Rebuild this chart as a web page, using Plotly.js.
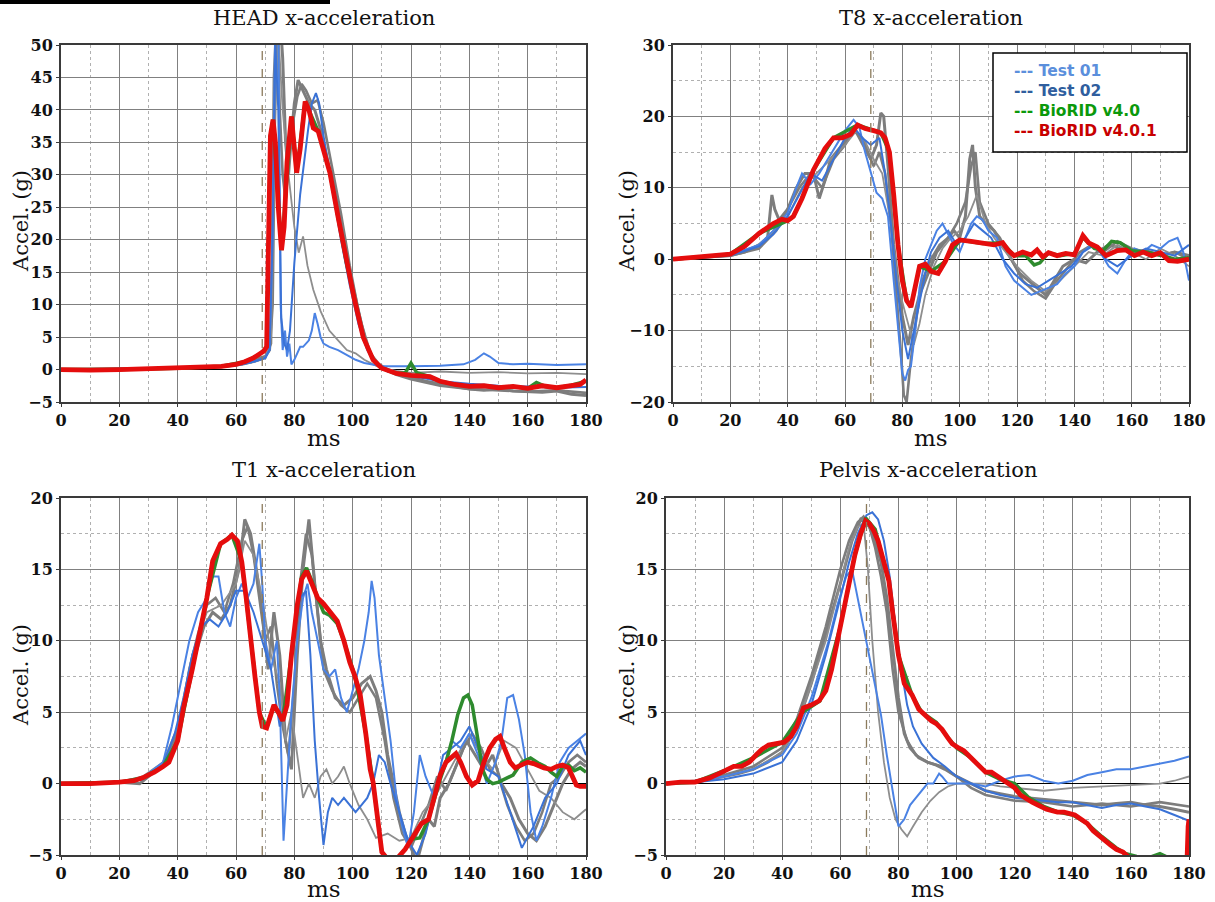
<!DOCTYPE html>
<html>
<head>
<meta charset="utf-8">
<script src="https://cdn.plot.ly/plotly-3.0.1.min.js"></script>
<style>html,body{margin:0;padding:0;background:#fff;}#chart{width:1215px;height:902px;}</style>
</head>
<body>
<div id="chart"></div>
<script>
// ---------------- DATA ----------------
const panelTitles = ["HEAD x-acceleration", "T8 x-acceleration", "T1 x-acceleration", "Pelvis x-acceleration"];
const xTitle = "ms";
const yTitle = "Accel. (g)";
const legendLabels = ["--- Test 01", "--- Test 02", "--- BioRID v4.0", "--- BioRID v4.0.1"];
const markerTime = 69;

// HEAD
const head_red_t = [0,10,20,30,40,50,55,60,63,66,68,69.5,70.5,71.3,71.8,72.7,73.5,74.5,75.6,76.5,77.5,79,80.8,82,83.7,85,86.5,88.2,90,92.2,95,97.9,100.5,103.6,107,110,115,120,126.5,130,135,140,145,150,155,160,165,170,175,178,180];
const head_red   = [0,-0.1,0,0.1,0.2,0.3,0.5,0.8,1.2,1.8,2.3,2.8,3.5,20,36,38.5,35,25,18.4,22,32,39,30.3,34,41.3,40,37.2,36.7,34,30.3,23.5,16.4,11,5,1.5,0.2,-0.6,-0.9,-1.1,-1.8,-2.3,-2.6,-2.5,-2.8,-2.6,-2.9,-2.5,-2.8,-2.4,-2.3,-1.6];
const head_green_t = [0,20,40,55,63,68,70.5,71.8,72.7,75.6,79,80.8,83.7,88.2,92.2,97.9,103.6,107,110,115,118,120,122,126.5,130,135,140,145,150,155,160,163,166,170,175,180];
const head_green   = [0,0,0.2,0.5,1.2,2.3,3.5,36,38.5,18.4,39,30.3,41.3,36.7,30.3,16.4,5,1.5,0.2,-0.6,-0.5,1,-0.5,-1.1,-1.8,-2.3,-2.6,-2.5,-2.8,-2.6,-2.9,-2,-2.6,-2.8,-2.4,-1.8];
const head_gray1_t = [0,20,40,55,62,66,70,71.5,72.5,73.3,74,75,76,77,78,79,80,81.3,83,85,87,89,91,94,97,100,103,106,109,112,116,120,125,130,135,140,145,150,155,160,165,170,175,180];
const head_gray1   = [0,0.1,0.2,0.5,1,1.5,2,3,10,40,55,55,48,35,30,36,41,44.6,43,41,40,37,33,27,20,13,7,2.5,0.8,0,-0.6,-1.2,-1.8,-2.2,-2.7,-3,-3.2,-3,-3.3,-3.4,-3.5,-3.3,-3.8,-4];
const head_gray2_t = [0,20,40,55,62,66,70,72,73,74,75,76,77,78,79.5,81,82.5,84,86,88,90,93,96,99,102,105,108,111,115,120,125,130,140,150,160,170,180];
const head_gray2   = [0,0.1,0.2,0.4,0.8,1.2,1.8,4,45,55,40,30,26,33,38,42,44,43,41,41.5,38,31,24,16,9,3.5,1,0,-0.8,-1.5,-2,-2.5,-3,-3.2,-3.4,-3.2,-3.6];
const head_gray3_t = [0,20,40,55,62,66,70,72,73.5,74.5,76,78,80,81.5,83,84.5,86.5,89,92,95,98,101,104,107,110,115,120,130,140,150,160,170,180];
const head_gray3   = [0,0.1,0.2,0.4,0.8,1.2,1.8,5,40,52,40,30,22,18,20.5,16,12.3,9,6,4.5,3,2.5,1.5,0.8,0.2,-0.2,-0.5,-0.3,-0.5,-0.4,-0.6,-0.5,-0.7];
const head_blue1_t = [0,20,40,55,62,66,70,71.5,72.5,73.5,74.5,75.3,76,76.8,77.5,78.3,79,80,81,82,83,84,85,86,87,88,89,90,92,95,98,101,104,107,110,120,130,138,142,145,147,150,155,160,170,180];
const head_blue1   = [0,0.1,0.2,0.4,0.8,1.2,1.8,3,20,55,55,10,3,6,2,4,0.8,1.5,2.5,3.5,3.5,4,4.5,6,8.7,7,5,4,3.5,3,2.3,1.5,1,0.7,0.5,0.5,0.6,0.8,1.5,2.5,2,1,0.8,0.9,0.7,0.8];
const head_blue2_t = [0,20,40,55,62,66,70,71.5,72.5,73.5,74.5,75.5,76.5,77.5,78.5,80,82,84.7,86,87.4,88.5,90,93,96,99,102,105,108,112,120,130,140,150,160,170,180];
const head_blue2   = [0,0.1,0.2,0.4,0.8,1.2,1.8,3,20,50,40,8,4,3,6,16.4,27,36.9,41,42.6,41,36,28,20,13,7,3,0.8,-0.3,-1,-1.8,-2.2,-2.5,-2.6,-2.8,-2.7];

// T8
const t8_red_t = [0,10,20,25,30,35,38,40,42,45,49,53,56,59,62,64.4,67,70,72.5,74,75.5,77,78.5,80,81.5,83,84.5,86,88,90,92.5,95,97.5,100,104,108,112,115,117,119,122,125,127,129,131,134,137,140,143,145,148,151,155,158,161,164,167,170,173,176,180];
const t8_red   = [0,0.3,0.7,1.8,3.6,5,5.6,5.4,6,8.5,12.5,15.5,17,17,17.5,18.8,18.3,18,17.7,17,15,9,2,-3,-5.8,-6.7,-4,-1,-0.7,-1.7,-2,-0.3,2,2.7,2.5,2.2,2,2.3,1.2,0.5,1,0.6,1.3,0.3,0.9,0.5,0.8,0.6,3.3,2.3,1.7,0.5,1.2,1.3,0.5,1,0.5,0.9,-0.2,-0.3,0];
const t8_green_t = [0,20,30,40,42,45,49,56,64.4,72.5,75.5,78.5,81.5,83,86,90,95,100,108,115,119,123,126,128,131,135,140,143,147,150,153,156,160,165,170,175,180];
const t8_green   = [0,0.7,3.6,5.4,6,8.5,12.5,17,18.8,17.7,15,2,-5.8,-6.7,-1,-1.7,-0.3,2.7,2.2,2.3,0.5,0.5,-0.8,-0.5,0.9,0.5,0.8,3,1.5,1.2,2.5,2.3,1.2,1,0.6,0,0.2];
const t8_gray1_t = [0,10,20,25,30,33,34.5,35.5,37,40,43,46,49,51,53,55,58,61,63,65,67,69,71,72.5,73.5,75,77,79,80,81,82,83,84,86,88,90,92,95,98,100,102,103.5,104.5,105.5,107,109,112,115,118,121,124,127,130,133,136,140,144,148,152,156,160,165,170,175,180];
const t8_gray1   = [0,0.2,0.5,1,2,3,9,7,5.5,7,10,12,12,8.5,11,14,15.5,17,18.5,17,15.5,14,16,20.5,20,13,2,-5,-8,-10,-12,-10,-8,-5,-3,-1,1,2.5,4,3,6,14,16,10,6,5,4,2,0,-2,-3,-4,-5,-3,-1,0,-0.5,1,2,1.5,1,1.2,0.5,1,0.5];
const t8_gray2_t = [0,10,20,30,36,40,44,48,52,56,60,63,66,68,70,72,74,76,78,79.5,80.5,81.5,83,85,87,90,93,96,99,102,104,105.5,107,110,114,118,122,126,130,134,138,142,146,150,155,160,165,170,175,180];
const t8_gray2   = [0,0.2,0.5,1.5,4,7,10,12,10,14,16,18,17,15,13,15,12,5,-5,-13,-19,-20,-14,-8,-3,0,2,3,5,8,13,15,8,5,3,0,-3,-4.5,-5.5,-3,-1,1,2,1,2.5,1.5,1,0.5,1,0];
const t8_gray3_t = [0,20,30,40,45,50,55,60,64,67,70,73,76,78,80,82,84,86,88,91,94,97,100,103,106,109,112,116,120,125,130,135,140,145,150,155,160,165,170,175,180];
const t8_gray3   = [0,0.5,2,6,10,12,14,16,18,16.5,14,12,5,-2,-6,-9,-12,-9,-5,-1,1.5,3,4,6,9,5,3,1,-1,-3,-4.5,-3,-1,1,0.5,2,1,0,1.5,0.5,-1];
const t8_blue1_t = [0,10,20,30,35,40,43,45,48,51,54,57,60,63,65,67,69,71,73,75,77,78.5,80,81,82,83,84.5,86,88,90,92,94,96,98,100,102,104,106,108,110,113,116,119,122,125,128,131,134,137,140,143,146,149,152,155,158,161,164,167,170,173,176,178,180];
const t8_blue1   = [0,0.2,0.6,2,4,6.5,10,12,10.5,12,14,16,18,19.5,18.5,15,12,9.3,8.5,6,-3,-10,-16,-17,-15.5,-15,-10,-4,0,2,4,5,3.5,2,1,3,5,6,5.5,4,3,-1,-3,-4,-5,-4.5,-4,-3.5,-2,-1,1,2,1,-1,-2,0,1.5,1,2,1.5,2.5,3,1,-3];
const t8_blue2_t = [0,10,20,30,35,40,44,48,52,56,60,63,66,69,72,74,76,78,80,82,84,86,88,90,93,96,99,102,105,108,111,115,119,123,127,131,135,139,143,147,151,155,160,165,170,175,180];
const t8_blue2   = [0,0.2,0.5,1.8,3.5,6,9,12,11,14,17,18.5,17,16,17,12,5,-3,-10,-14,-10,-6,-2,1,3,4,2,3,5,4,3,0,-2,-3.5,-4,-3,-2,-1,1,2,0,-1,0.5,1.5,1,0.5,2];

// T1
const t1_red_t = [0,10,20,25,28,32,35,37,40,42,45,47.5,50,52,54.7,57,58.6,60.5,62,63.5,65,66.5,68,69,70.5,72,73,74.5,76,77.5,79,81,82.5,84.2,86,88,90,92,94.7,97,99,100.8,102.6,104.5,106,107,108.5,110,112,115,118,120,123.6,126,128,130,132,135.4,137,139,141,143,145,147,149,150.5,152,154,155.7,158,160,162,165.6,168,170,172,174,176.7,178,180];
const t1_red   = [0,0,0.1,0.2,0.4,0.8,1.2,1.5,3,5.3,8,10.5,13,15.6,16.8,17.1,17.4,17,15.5,13,10,7.5,5,4,3.9,4.8,5.5,5,4.4,5.5,9,12.5,14.3,14.9,14,13,12.6,12.1,11.4,10,8.5,7.5,6.2,3.5,1,0.1,-2.5,-4.8,-5.3,-5.3,-4.6,-4,-2.8,-2.5,-1,0.6,1.5,2.1,1.5,0.5,-0.1,0.2,1.5,2.5,3.1,3.3,2.5,1.5,1.1,1.3,1.5,1.4,1.1,1,1.2,1.3,1.1,-0.1,-0.2,-0.2];
const t1_green_t = [0,20,28,35,40,45,50,54.7,58.6,62,65,68,70.5,73,76,79,82.5,84.2,86,88,90,92,94.7,97,100.8,104.5,107,110,112,115,118,120,123,126,128,130,132,134,136,138,139.5,141,143,144.5,146,148,150,152,155,158,161,164,166,168,170,172,174,176,178,180];
const t1_green   = [0,0.1,0.4,1.2,3,8,13,16.8,17.4,15.5,10,5,3.9,5.5,4.4,9,14.5,15.1,14.2,13,12,11.8,11.2,10,7.5,3.5,0.1,-4.8,-5.3,-5.3,-4.6,-3.9,-3.8,-2.5,-1,0.3,1.5,3,4.8,6,6.2,5.5,3,1,0.3,0,0.1,0.3,0.6,1.5,1.8,1.4,1.2,0.8,0.5,1.2,1.3,0.9,1.1,0.8];
const t1_gray1_t = [0,20,27,32,36,40,43,46,49,52,55,58,61,63,65,67,69,71,73,75,77,79,81,83,85,87,89,91,94,97,100,103,106,108,110,112,114,116,118,120,122,124,126,128,130,133,136,139,142,145,148,151,154,157,160,163,166,169,172,175,178,180];
const t1_gray1   = [0,0.1,0,0.8,1.5,3.5,6,9,11,12,11.5,12.5,15,18.5,17.5,15,12,8,12,9,3,1,9,15,18.5,14,10,8,6,5.5,6,7,7.5,6.5,5,2,0,-2,-3.5,-4.5,-5.5,-4,-2.5,-3,-1,0,1.5,3,2,1,2,0,-1,-2.5,-3.5,-4,-3,-1.5,0,1,1.5,1.2];
const t1_gray2_t = [0,20,28,33,37,41,44,47,50,53,56,59,62,64,66,68,70,72,74,76,78,80,82,84,86,88,90,93,96,99,102,105,108,111,114,117,120,123,126,129,132,135,138,141,144,147,150,153,156,159,162,165,168,171,174,177,180];
const t1_gray2   = [0,0.1,0.3,1,2,4.5,8,10.5,12.5,13,12,14,17,18,16,13,10,11,7,4,2,7,14,17.5,16,12,8,6.5,5.5,5,6,7,6,3,-1,-3.5,-4.5,-3,-1.5,0.5,-0.5,1,2.5,3.5,2.5,1,0.5,-1.5,-3,-4,-3.5,-2,0,0.5,1.5,2,1.5];
const t1_gray3_t = [0,20,28,35,40,45,50,55,60,63,66,69,72,75,77,79,81,83,85,87,89,91,93,95,97,99,102,105,108,112,116,120,124,128,132,136,140,144,148,152,156,160,164,168,172,176,180];
const t1_gray3   = [0,0.1,0.5,1.5,4,9,12,12.5,14,17,16,13,9,7,3,5,2,-1,0,-1,0.5,1,0,0.5,1.2,0,-1.5,-2.5,-3.8,-3.5,-4,-3.8,-2,-1,0.5,2,3.5,2,1,3,2.5,1,-0.5,-1,-2,-2.5,-1.8];
const t1_blue1_t = [0,20,28,35,38,41,44,47,50,52,54,56,58,60,62,64,66,68,69,70,72,74,75,76.3,77.5,79,81,83,84.5,86,88,90,92,94,96,98,100,102,104,105.5,106.5,107.5,109,111,113,115,117,119,121,123,125,128,131,134,137,140,143,146,149,151,153,155,157,159,161,163,165,168,171,174,177,180];
const t1_blue1   = [0,0.1,0.4,1.5,4,7,10,12,13,14.5,14.5,12,11,13,14,13,14,16.8,14,10,8,10,6,-4,0,5,10,13,14,12,10,8,7.5,8,6,5,6.5,8,10,12,14.2,13,9,6,3,-1,-3,-4.5,-2,2,0.5,-1,1,3,2.5,3.5,2,0,1.5,3,6,6.2,4.5,2,-2,-4,-3,-1,1.5,2.5,3,3.5];
const t1_blue2_t = [0,20,28,35,39,42,45,48,51,54,57,60,63,66,69,72,75,78,80,82,84,85.5,87,88.5,90,91.5,93,95,97,99,101,103,105,107,109,111,113,116,119,122,125,128,131,134,137,140,143,146,150,154,158,162,166,170,174,178,180];
const t1_blue2   = [0,0.1,0.3,1.3,3.5,6,9,11,11.5,11,12,13.5,13.5,12,10,8,4,7,10,13,13.5,9,3,-1,-4.3,-2,-1,-1.5,-1,-1.5,-2,-1.5,-1,0,2,1.5,0,-2,-4,-5,-3.5,-1,2,2.5,3,4,2.5,1,0.5,-2,-4.5,-3,-1,0,2,3,2];

// Pelvis
const pel_red_t = [0,5,10,15,19.3,23.3,26,28.7,31,33,35.3,38,40.7,43,45,47.3,50,52.7,55,57,59,61,63,65,67,68.7,70,71.5,73,74.5,76.7,78,80,82,84.7,87,89,91.3,93,95,97,98.5,100.7,102.5,104,106,108,110,112,114,116,118,120,122,124,126,128,131,134.7,137,140.7,143,145,147,148.7,151,153,155,157.3,159,161,178.8,179.3,179.7,180];
const pel_red   = [0,0.1,0.1,0.4,0.8,1.2,1.2,1.5,2,2.4,2.7,2.8,2.9,3.3,4,5.3,5.5,5.8,6.5,8,10,12,14,16,17.5,18.4,18.2,17.7,17,15.8,14.2,12,9,7,6.2,5.2,4.8,4.4,4.2,3.8,3.2,2.8,2.5,2.3,2,1.6,1.1,0.8,0.8,0.5,0.3,0,-0.3,-0.8,-1.1,-1.3,-1.5,-1.8,-2,-2,-2.2,-2.5,-2.8,-3.3,-3.6,-4,-4.3,-4.6,-4.8,-5.1,-5.5,-6,-5.5,-3,-2.5];
const pel_green_t = [0,10,20,30,40,47,53,60,65,68.7,72,76.7,80,84.7,88,91,93,96,100,105,110,115,120,125,130,135,140,145,150,155,158,162,166,170,174,178,180];
const pel_green   = [0,0.1,0.9,1.8,2.9,5,5.8,11,16,18.6,17.8,14.2,9,6.2,5,4.6,4.3,3.5,2.5,1.8,0.8,0.3,0,-1,-1.6,-2,-2.2,-2.8,-3.7,-4.5,-4.9,-5.1,-5.2,-4.9,-5.3,-5.5,-5.5];
const pel_gray1_t = [0,10,15,20,25,30,35,40,45,50,55,60,64,67,70,72,74,76,78,80,82,84,87,90,93,96,100,105,110,115,120,125,130,135,140,145,150,155,160,165,170,175,180];
const pel_gray1   = [0,0.1,0.3,0.5,0.7,1,1.5,2.2,4,7,10.5,14,17,18.5,18,17,15.5,13,9.5,6,3.5,2.5,1.8,1.5,1.3,1,0.5,0,-0.5,-0.7,-0.9,-1,-1.1,-1.2,-1.3,-1.4,-1.5,-1.4,-1.3,-1.5,-1.6,-1.8,-2];
const pel_gray2_t = [0,10,20,30,40,45,50,55,60,63,66,68,70,72,74,76,78,80,83,86,90,95,100,105,110,115,120,130,140,150,160,170,180];
const pel_gray2   = [0,0.2,0.6,1.2,2.5,4.5,7.5,11,15,17,18.3,18.7,18,16.5,14.5,12,8,5,3,2,1.5,1.2,0.5,-0.3,-0.8,-1,-1.2,-1.3,-1.6,-1.4,-1.6,-1.3,-1.6];
const pel_gray3_t = [0,10,20,30,40,45,50,55,60,63,66,68,69.5,71,73,75,77,79,81,83,85,88,91,94,97,100,105,110,115,120,125,130,140,150,160,170,175,180];
const pel_gray3   = [0,0.2,0.5,1,2.2,4,7,10,14,16.5,18,18.2,15,10,5,1.5,-1,-2.5,-3.2,-3.7,-3,-2,-1.2,-0.6,-0.2,0,0,0,-0.2,-0.3,-0.4,-0.5,-0.3,-0.2,-0.1,0,0.2,0.5];
const pel_blue1_t = [0,10,20,30,40,45,50,53,56,59,62,64,66,68,70,72,74,76,78,80,82,84,86,88,90,92,94,95,97,100,105,110,115,120,125,130,135,140,145,150,155,160,165,170,175,180];
const pel_blue1   = [0,0.2,0.5,1,2,3.5,6,8,10,12.5,14.5,15,13,11,9,7,4.8,2,-0.5,-3,-2.5,-1.5,-1,-0.5,0,0,0.7,0.5,0,0,0,-0.2,0.2,0.5,0.6,0.2,0,0.2,0.6,0.8,1,1,1.2,1.4,1.6,1.9];
const pel_blue2_t = [0,10,20,30,40,45,50,55,60,63,66,69,71,73,75,77,79,81,83,85,88,92,96,100,105,110,115,120,125,130,135,140,145,150,155,160,165,170,175,180];
const pel_blue2   = [0,0.1,0.3,0.7,1.5,3,5.5,9,13,15.5,17.5,18.8,19,18.5,17,14.5,11,8,5.5,4,2.8,1.8,1.2,0.5,0,-0.5,-0.8,-1,-1.1,-1.2,-1.3,-1.3,-1.5,-1.7,-1.5,-1.4,-1.6,-1.8,-2.2,-2.6];

// ---------------- STYLE / LAYOUT ----------------
const W = 1215, H = 902;
const FONT = "DejaVu Serif";
const px = v => v / W;
const py = v => 1 - v / H;

const GRAY = "#7d7d7d", GRAY_THIN = "#8e8e8e", BLUE1 = "#4a82e4", BLUE2 = "#3a72d6", GREEN = "#2e8b2e", RED = "#e50d0d";

function line(x, y, ax, color, width) {
  return {type: "scatter", mode: "lines", x: x, y: y, xaxis: "x" + ax, yaxis: "y" + ax,
          line: {color: color, width: width, shape: "linear"}, hoverinfo: "skip", showlegend: false};
}

const panels = [
  {ax: "", d: [head_gray1_t, head_gray1, head_gray2_t, head_gray2, head_gray3_t, head_gray3, head_blue1_t, head_blue1, head_blue2_t, head_blue2, head_green_t, head_green, head_red_t, head_red]},
  {ax: "2", d: [t8_gray1_t, t8_gray1, t8_gray2_t, t8_gray2, t8_gray3_t, t8_gray3, t8_blue1_t, t8_blue1, t8_blue2_t, t8_blue2, t8_green_t, t8_green, t8_red_t, t8_red]},
  {ax: "3", d: [t1_gray1_t, t1_gray1, t1_gray2_t, t1_gray2, t1_gray3_t, t1_gray3, t1_blue1_t, t1_blue1, t1_blue2_t, t1_blue2, t1_green_t, t1_green, t1_red_t, t1_red]},
  {ax: "4", d: [pel_gray1_t, pel_gray1, pel_gray2_t, pel_gray2, pel_gray3_t, pel_gray3, pel_blue1_t, pel_blue1, pel_blue2_t, pel_blue2, pel_green_t, pel_green, pel_red_t, pel_red]}
];
const styles = [[GRAY, 3], [GRAY, 2.6], [GRAY_THIN, 1.8], [BLUE1, 2], [BLUE2, 2], [GREEN, 3.5], [RED, 4.8]];

const traces = [];
panels.forEach(p => {
  for (let i = 0; i < 7; i++) {
    traces.push(line(p.d[2 * i], p.d[2 * i + 1], p.ax, styles[i][0], styles[i][1]));
  }
});

function tf() { return {family: FONT, size: 16, color: "#111", weight: "bold"}; }
function xax(dom, anchor) {
  return {domain: dom, anchor: anchor, range: [0, 180], tick0: 0, dtick: 20, showgrid: true,
          gridcolor: "#808080", gridwidth: 1, zeroline: false,
          minor: {tick0: 0, dtick: 10, showgrid: true, gridcolor: "#b0b0b0", griddash: "dot", gridwidth: 1},
          showline: true, mirror: true, linecolor: "#3a3a3a", linewidth: 2,
          ticks: "outside", ticklen: 3, tickcolor: "#3a3a3a", tickfont: tf(), fixedrange: true};
}
function yax(dom, anchor, range, dtick, minor) {
  const a = {domain: dom, anchor: anchor, range: range, tick0: 0, dtick: dtick, showgrid: true,
          gridcolor: "#808080", gridwidth: 1, zeroline: true, zerolinecolor: "#000", zerolinewidth: 1.2,
          showline: true, mirror: true, linecolor: "#3a3a3a", linewidth: 2,
          ticks: "outside", ticklen: 3, tickcolor: "#3a3a3a", tickfont: tf(), fixedrange: true};
  if (minor) a.minor = {tick0: 0, dtick: minor, showgrid: true, gridcolor: "#b0b0b0", griddash: "dot", gridwidth: 1};
  return a;
}

const topY = [py(402), py(45)];
const botY = [py(855), py(498)];

const layout = {
  width: W, height: H, margin: {l: 0, r: 0, t: 0, b: 0},
  font: {family: FONT, size: 16, color: "#111"},
  paper_bgcolor: "#fff", plot_bgcolor: "#fff", showlegend: false,
  xaxis:  xax([px(61), px(586)], "y"),
  yaxis:  yax(topY, "x", [-5, 50], 5, null),
  xaxis2: xax([px(673), px(1189)], "y2"),
  yaxis2: yax(topY, "x2", [-20, 30], 10, 5),
  xaxis3: xax([px(61), px(586)], "y3"),
  yaxis3: yax(botY, "x3", [-5, 20], 5, 2.5),
  xaxis4: xax([px(666), px(1189)], "y4"),
  yaxis4: yax(botY, "x4", [-5, 20], 5, 2.5),
  shapes: [],
  annotations: []
};

// marker lines at the chosen time
["", "2", "3", "4"].forEach(a => {
  layout.shapes.push({type: "line", xref: "x" + a, yref: "y" + a + " domain", x0: markerTime, x1: markerTime, y0: 0, y1: 1,
                      line: {color: "#8c7b5c", width: 1.3, dash: "dash"}});
});
// cropped bar at the very top-left of the image
layout.shapes.push({type: "rect", xref: "paper", yref: "paper", x0: 0, x1: px(330), y0: py(4), y1: 1,
                    fillcolor: "#000", line: {width: 0}});
// legend box
layout.shapes.push({type: "rect", xref: "paper", yref: "paper", x0: px(993), x1: px(1187), y0: py(152), y1: py(53),
                    fillcolor: "#fff", line: {color: "#000", width: 1.5}});

const centers = [[323.5, 221, 438, 21], [931, 221, 438, 627], [323.5, 675, 889, 21], [927.5, 675, 889, 627]];
const titleY = [18, 18, 470, 470];
centers.forEach((c, i) => {
  layout.annotations.push({xref: "paper", yref: "paper", x: px(c[0]), y: py(titleY[i]), text: panelTitles[i],
    showarrow: false, xanchor: "center", yanchor: "middle", font: {family: FONT, size: 21, color: "#111"}});
  layout.annotations.push({xref: "paper", yref: "paper", x: px(c[0]), y: py(c[2]), text: xTitle,
    showarrow: false, xanchor: "center", yanchor: "middle", font: {family: FONT, size: 23, color: "#111"}});
  layout.annotations.push({xref: "paper", yref: "paper", x: px(c[3]), y: py(c[1]), text: yTitle, textangle: -90,
    showarrow: false, xanchor: "center", yanchor: "middle", font: {family: FONT, size: 21, color: "#111"}});
});

const legendColors = ["#5b8fdc", "#2f5e9e", "#0b990b", "#c80000"];
const legendText = legendLabels.map((s, i) => '<span style="color:' + legendColors[i] + '"><b>' + s + '</b></span>').join("<br>");
layout.annotations.push({xref: "paper", yref: "paper", x: px(1012), y: py(101), text: legendText, align: "left",
  showarrow: false, xanchor: "left", yanchor: "middle", font: {family: "DejaVu Sans", size: 15.5}});

Plotly.newPlot("chart", traces, layout, {displayModeBar: false, staticPlot: true});
</script>
</body>
</html>
